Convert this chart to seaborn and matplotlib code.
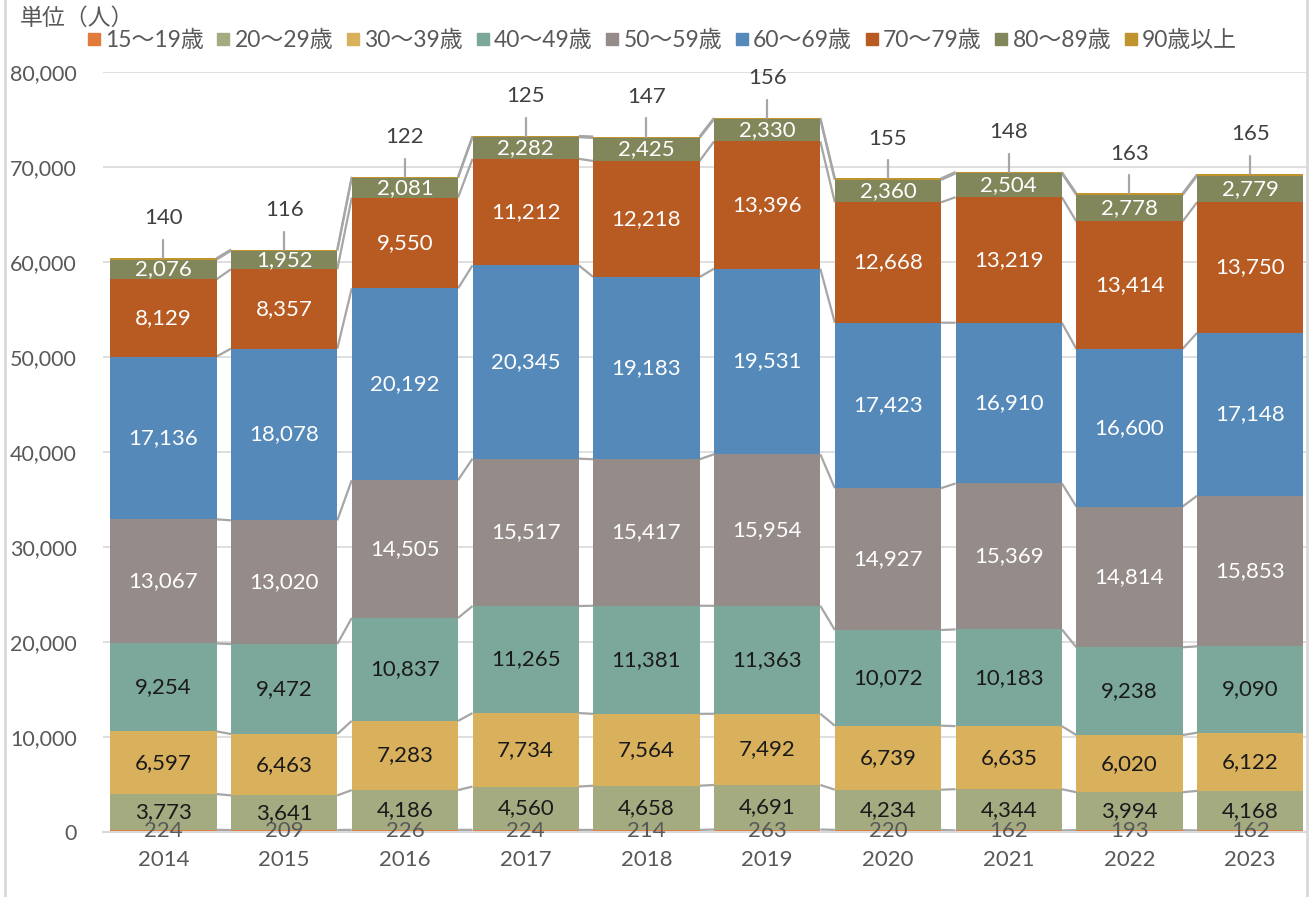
import numpy as np
import pandas as pd
import matplotlib.pyplot as plt
import seaborn as sns
from matplotlib.lines import Line2D
from matplotlib.ticker import FuncFormatter

years = ["2014", "2015", "2016", "2017", "2018", "2019", "2020", "2021", "2022", "2023"]
age_groups = ["15〜19歳", "20〜29歳", "30〜39歳", "40〜49歳", "50〜59歳",
              "60〜69歳", "70〜79歳", "80〜89歳", "90歳以上"]

age_15_19 = [224, 209, 226, 224, 214, 263, 220, 162, 193, 162]
age_20_29 = [3773, 3641, 4186, 4560, 4658, 4691, 4234, 4344, 3994, 4168]
age_30_39 = [6597, 6463, 7283, 7734, 7564, 7492, 6739, 6635, 6020, 6122]
age_40_49 = [9254, 9472, 10837, 11265, 11381, 11363, 10072, 10183, 9238, 9090]
age_50_59 = [13067, 13020, 14505, 15517, 15417, 15954, 14927, 15369, 14814, 15853]
age_60_69 = [17136, 18078, 20192, 20345, 19183, 19531, 17423, 16910, 16600, 17148]
age_70_79 = [8129, 8357, 9550, 11212, 12218, 13396, 12668, 13219, 13414, 13750]
age_80_89 = [2076, 1952, 2081, 2282, 2425, 2330, 2360, 2504, 2778, 2779]
age_90_up = [140, 116, 122, 125, 147, 156, 155, 148, 163, 165]

colors = ["#E07B3C", "#A4AB80", "#D9B05B", "#7BA89A", "#958C8A",
          "#5489BA", "#B85B23", "#81875A", "#BF932D"]
label_colors = ["#595959", "#1A1A1A", "#1A1A1A", "#1A1A1A", "#FFFFFF",
                "#FFFFFF", "#FFFFFF", "#FFFFFF", "#404040"]

series = [age_15_19, age_20_29, age_30_39, age_40_49, age_50_59,
          age_60_69, age_70_79, age_80_89, age_90_up]
vals = np.array(series, dtype=float)
tops = vals.cumsum(axis=0)
bottoms = tops - vals

sns.set_theme(style="white")
plt.rcParams['font.family'] = ['Lato', 'Noto Sans CJK JP', 'DejaVu Sans']

W, H = 1311, 897
fig = plt.figure(figsize=(W / 100, H / 100), dpi=100)
ax = fig.add_axes([103 / W, 1 - 832 / H, (1307 - 103) / W, (832 - 72) / H])

bar_w = 0.88
fs = 16
# stacked bars: draw cumulative totals from the top series down
for k in range(len(series) - 1, -1, -1):
    df = pd.DataFrame({"year": years, "value": tops[k]})
    sns.barplot(data=df, x="year", y="value", color=colors[k], saturation=1,
                width=bar_w, errorbar=None, linewidth=0, ax=ax, zorder=2)

# series lines between bars
for k in range(len(series)):
    for i in range(len(years) - 1):
        ax.plot([i + bar_w / 2, i + 1 - bar_w / 2], [tops[k][i], tops[k][i + 1]],
                color="#A6A6A6", lw=1.6, zorder=1, solid_capstyle="butt")

# labels inside segments
for k in range(len(series) - 1):
    for i in range(len(years)):
        ax.text(i, bottoms[k][i] + vals[k][i] / 2, f"{int(vals[k][i]):,}",
                ha="center", va="center", fontsize=fs, color=label_colors[k], zorder=5)

# 90+ labels above bars with leader lines
for i in range(len(years)):
    t = tops[-1][i]
    ax.plot([i, i], [t, t + 1900], color="#A6A6A6", lw=1.6, zorder=3)
    ax.text(i, t + 4200, f"{int(vals[-1][i]):,}", ha="center", va="center",
            fontsize=fs, color=label_colors[-1], zorder=5)

ax.set_xlim(-0.5, 9.47)
ax.set_ylim(0, 80000)
ax.set_yticks(range(0, 80001, 10000))
ax.yaxis.set_major_formatter(FuncFormatter(lambda v, p: f"{int(v):,}"))
ax.grid(axis="y", color="#D9D9D9", lw=1.2, zorder=0)
ax.set_axisbelow(True)
for s in ["left", "right", "top"]:
    ax.spines[s].set_visible(False)
ax.spines["bottom"].set_color("#D9D9D9")
ax.spines["bottom"].set_linewidth(1.5)
ax.spines["bottom"].set_zorder(4)
ax.tick_params(axis="y", length=0, pad=19, labelsize=15.5, labelcolor="#595959")
ax.tick_params(axis="x", length=0, pad=13, labelsize=fs, labelcolor="#595959")
ax.set_xlabel("")
ax.set_ylabel("")

handles = [Line2D([0], [0], marker="s", linestyle="none", markersize=9,
                  markerfacecolor=c, markeredgecolor=c) for c in colors]
fig.legend(handles, age_groups, loc="center", bbox_to_anchor=(662 / W, 1 - 40 / H),
           ncol=9, frameon=False, fontsize=16.5, labelcolor="#595959",
           handlelength=0.6, handletextpad=0.2, columnspacing=0.55)

fig.text(20 / W, 1 - 18 / H, "単位（人）", ha="left", va="center",
         fontsize=16.5, color="#595959")

fig.add_artist(Line2D([5 / W, 5 / W], [0, 1], color="#D9D9D9", lw=2))
fig.add_artist(Line2D([1307 / W, 1307 / W], [0, 1], color="#D9D9D9", lw=2))

fig.savefig("out.png", dpi=100)
